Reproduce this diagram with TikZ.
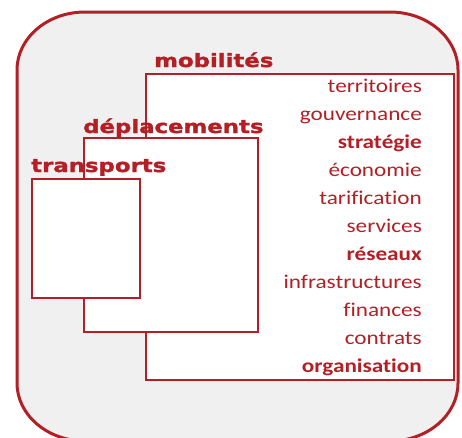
\documentclass[tikz,border=0pt]{standalone}
\usepackage{fontspec}
\newfontfamily\listfont[FakeStretch=1.19,Ligatures={NoCommon,NoRequired,NoContextual}]{Carlito}
\newfontfamily\titlefont[FakeStretch=1.24,FakeBold=1.6]{DejaVu Sans Bold}
\definecolor{dr}{RGB}{178,32,38}
\definecolor{bg}{RGB}{240,240,240}
\tikzset{
  outerframe/.style={draw=dr, line width=3pt, fill=bg},
  box/.style={draw=dr, line width=1.7pt, fill=white, inner sep=0pt, anchor=north west},
  ttl/.style={text=dr, inner sep=0pt, anchor=base west, font=\titlefont\fontsize{18.4}{20}\selectfont},
  item/.style={text=dr, inner sep=0pt, anchor=base east, font=\listfont\fontsize{19.5}{21}\selectfont},
  bitem/.style={item, font=\listfont\bfseries\fontsize{19.5}{21}\selectfont}
}
\begin{document}
\begin{tikzpicture}[x=1pt,y=1pt]
\useasboundingbox (0,0) rectangle (462,-437);
\clip (0,0) rectangle (462,-437);
\draw[outerframe] (17,-70) -- (17,-383)
  arc[start angle=180,end angle=270,x radius=68,y radius=58] -- (390,-441)
  arc[start angle=270,end angle=360,x radius=68,y radius=58] -- (458,-70)
  arc[start angle=0,end angle=90,x radius=68,y radius=58] -- (85,-12)
  arc[start angle=90,end angle=180,x radius=68,y radius=58] -- cycle;
\node[box, minimum width=308pt, minimum height=306pt] (mob) at (145,-73) {};
\node[ttl] (tmob) at (154,-67) {mobilités};
\node[item]  (i1)  at (422,-92)  {territoires};
\node[item]  (i2)  at (422,-120) {gouvernance};
\node[bitem] (i3)  at (422,-148) {stratégie};
\node[item]  (i4)  at (422,-176.5) {économie};
\node[item]  (i5)  at (422,-204.5) {tarification};
\node[item]  (i6)  at (422,-232.5) {services};
\node[bitem] (i7)  at (422,-260.5) {réseaux};
\node[item]  (i8)  at (422,-288.5) {infrastructures};
\node[item]  (i9)  at (422,-316.5) {finances};
\node[item]  (i10) at (422,-344.5) {contrats};
\node[bitem] (i11) at (422,-372.5) {organisation};
\node[box, minimum width=174pt, minimum height=194pt] (dep) at (83,-137) {};
\node[ttl] (tdep) at (83,-133) {déplacements};
\node[box, minimum width=108pt, minimum height=119pt] (tra) at (31,-178) {};
\node[ttl] (ttra) at (31,-172) {transports};
\end{tikzpicture}
\end{document}
